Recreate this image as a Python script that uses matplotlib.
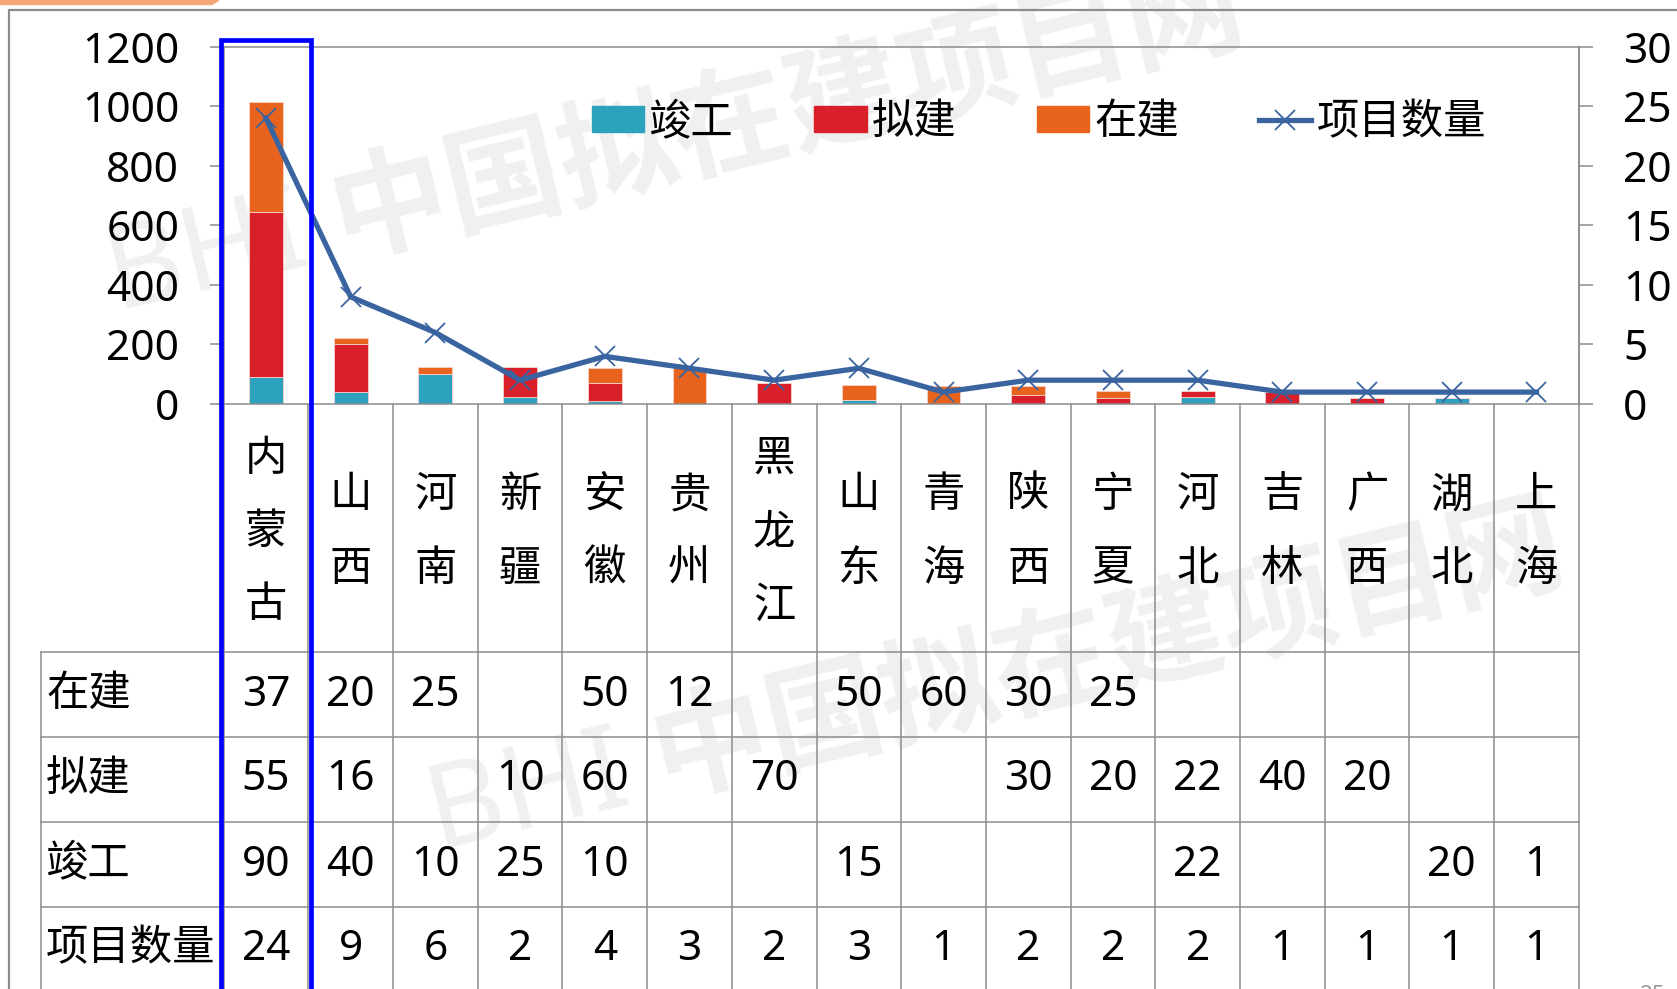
import numpy as np
import matplotlib.pyplot as plt
import matplotlib.transforms as mtransforms
from matplotlib.lines import Line2D
from matplotlib.patches import Patch, Polygon

plt.rcParams['font.family'] = ['Noto Sans', 'Noto Sans CJK SC', 'DejaVu Sans']

# data
provinces = ['内蒙古', '山西', '河南', '新疆', '安徽', '贵州', '黑龙江', '山东',
             '青海', '陕西', '宁夏', '河北', '吉林', '广西', '湖北', '上海']
# bar heights as drawn (left axis)
bar_jungong = [90, 40, 100, 25, 10, 0, 0, 15, 0, 0, 0, 22, 0, 0, 20, 1]
bar_nijian = [555, 160, 0, 100, 60, 0, 70, 0, 0, 30, 20, 22, 40, 20, 0, 0]
bar_zaijian = [370, 20, 25, 0, 50, 120, 0, 50, 60, 30, 25, 0, 0, 0, 0, 0]
# project count (right axis)
xm_count = [24, 9, 6, 2, 4, 3, 2, 3, 1, 2, 2, 2, 1, 1, 1, 1]
# data table text as printed
tbl_zaijian = ['37', '20', '25', '', '50', '12', '', '50', '60', '30', '25', '', '', '', '', '']
tbl_nijian = ['55', '16', '', '10', '60', '', '70', '', '', '30', '20', '22', '40', '20', '', '']
tbl_jungong = ['90', '40', '10', '25', '10', '', '', '15', '', '', '', '22', '', '', '20', '1']
row_names = ['在建', '拟建', '竣工', '项目数量']
highlight = 0  # 内蒙古 boxed in blue

c_teal = '#2CA2BF'
c_red = '#D81F2A'
c_orange = '#E8641E'
c_line = '#3A64A0'
c_grid = '#8C8C8C'
fs = 30.5

W, H = 1677, 989
fig = plt.figure(figsize=(W / 100, H / 100), dpi=100)


def fx(px):
    return px / W


def fy(py):
    return 1 - py / H


# plot area (pixels)
left, right, top, bottom = 223.6, 1578.8, 46.7, 404
ax = fig.add_axes([fx(left), fy(bottom), fx(right) - fx(left), (bottom - top) / H])
ax.patch.set_alpha(0)

x = np.arange(len(provinces))
jg = np.array(bar_jungong)
nj = np.array(bar_nijian)
zj = np.array(bar_zaijian)
ec = '#F6D2CB'
ax.bar(x, jg, 0.4, color=c_teal, edgecolor=ec, linewidth=0.6)
ax.bar(x, nj, 0.4, bottom=jg, color=c_red, edgecolor=ec, linewidth=0.6)
ax.bar(x, zj, 0.4, bottom=jg + nj, color=c_orange, edgecolor=ec, linewidth=0.6)
ax.set_xlim(-0.5, len(provinces) - 0.5)
ax.set_ylim(0, 1200)
ax.set_yticks(range(0, 1201, 200))
ax.set_xticks([])
ax.tick_params(axis='y', direction='out', length=10, width=1.1, color=c_grid,
               pad=22, labelsize=fs)
for s in ['left', 'top', 'bottom', 'right']:
    ax.spines[s].set_color(c_grid)
    ax.spines[s].set_linewidth(1.1)

ax2 = ax.twinx()
ax2.plot(x, xm_count, color=c_line, lw=3.8, marker='x', ms=14, mew=1.3)
ax2.set_ylim(0, 30)
ax2.set_yticks(range(0, 31, 5))
ax2.tick_params(axis='y', direction='out', length=10, width=1.1, color=c_grid,
                pad=22, labelsize=fs)
for s in ['left', 'top', 'bottom']:
    ax2.spines[s].set_visible(False)
ax2.spines['right'].set_color(c_grid)
ax2.spines['right'].set_linewidth(1.1)

# legend
handles = [Patch(color=c_teal), Patch(color=c_red), Patch(color=c_orange),
           Line2D([], [], color=c_line, lw=3.8, marker='x', ms=14, mew=1.3)]
fig.legend(handles, ['竣工', '拟建', '在建', '项目数量'], loc='center',
           bbox_to_anchor=(fx(1039), fy(123)), ncol=4, frameon=False, fontsize=fs,
           handlelength=1.23, handleheight=0.59, handletextpad=0.12,
           columnspacing=1.9, borderpad=0, borderaxespad=0)

# data table below the chart
tr = mtransforms.blended_transform_factory(ax.transData, fig.transFigure)
tbl_top = 652
row_h = 85
tbl_left = 41.3
for k in range(len(provinces) + 1):
    fig.add_artist(Line2D([k - 0.5, k - 0.5], [0, fy(bottom)], transform=tr,
                          color=c_grid, lw=1.1))
for r in range(4):
    yy = fy(tbl_top + r * row_h)
    fig.add_artist(Line2D([fx(tbl_left), fx(right)], [yy, yy], color=c_grid, lw=1.1))
fig.add_artist(Line2D([fx(tbl_left), fx(tbl_left)], [0, fy(tbl_top)], color=c_grid, lw=1.1))

# category labels, one character per line
cat_mid = (bottom + tbl_top) / 2 + 5
for i, name in enumerate(provinces):
    m = len(name)
    for k, ch in enumerate(name):
        yy = cat_mid + (k - (m - 1) / 2) * 73.5
        fig.text(i, fy(yy), ch, transform=tr, ha='center', va='center', fontsize=fs)

rows = [tbl_zaijian, tbl_nijian, tbl_jungong, [str(v) for v in xm_count]]
for r, (name, vals) in enumerate(zip(row_names, rows)):
    yc = fy(tbl_top + (r + 0.5) * row_h)
    fig.text(fx(46), yc, name, ha='left', va='center', fontsize=fs)
    for i, v in enumerate(vals):
        fig.text(i, yc, v, transform=tr, ha='center', va='center', fontsize=fs)

# blue highlight box
fig.add_artist(Line2D([highlight - 0.53, highlight - 0.53, highlight + 0.53, highlight + 0.53],
                      [0, fy(40), fy(40), 0], transform=tr, color='#0000FF', lw=3.4,
                      solid_joinstyle='miter'))

# page decoration: frame, orange strip, watermark, page number
fig.add_artist(Line2D([fx(9), fx(9), 1], [0, fy(10), fy(10)], color=c_grid, lw=1.6))
fig.add_artist(Polygon([(0, 1), (fx(219), 1), (fx(212), fy(4.5)), (0, fy(4.5))],
                       closed=True, color='#F4A57A', transform=fig.transFigure))
for cx, cy in [(676, 146), (997, 685)]:
    fig.text(fx(cx), fy(cy), 'BHI 中国拟在建项目网', rotation=13.5, fontsize=84,
             fontweight='bold', color='#F0F0F0', ha='center', va='center',
             rotation_mode='anchor', zorder=-1)
fig.text(fx(1640), fy(985), '25', fontsize=16, color='#999999', va='top')

fig.savefig('out.png', dpi=100)
